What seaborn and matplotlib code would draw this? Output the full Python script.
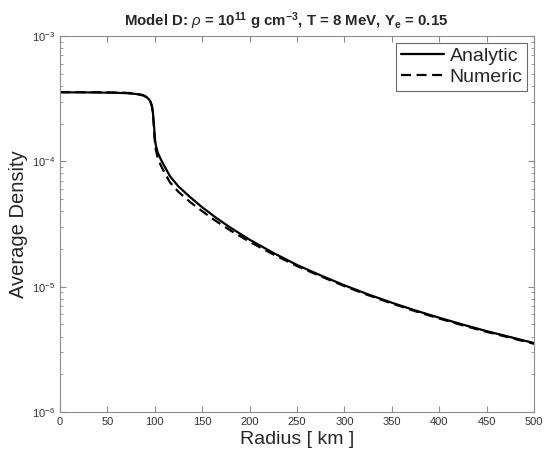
import numpy as np
import pandas as pd
import matplotlib
matplotlib.use("Agg")
import matplotlib.pyplot as plt
import seaborn as sns

# radius grid [km]
radius = [0, 20, 40, 60, 70, 80, 88, 92, 95, 97, 98, 99, 100, 101, 103, 106,
          110, 116, 125, 137, 150, 165, 180, 200, 225, 250, 275, 300, 325,
          350, 375, 400, 425, 450, 475, 500]

# average density
analytic = [3.55e-4, 3.55e-4, 3.54e-4, 3.52e-4, 3.50e-4, 3.45e-4, 3.35e-4,
            3.22e-4, 3.05e-4, 2.75e-4, 2.45e-4, 2.0e-4, 1.55e-4, 1.35e-4,
            1.18e-4, 1.05e-4, 9.2e-5, 7.6e-5, 6.3e-5, 5.2e-5, 4.3e-5, 3.53e-5,
            2.95e-5, 2.37e-5, 1.86e-5, 1.49e-5, 1.23e-5, 1.025e-5, 8.68e-6,
            7.45e-6, 6.45e-6, 5.65e-6, 4.98e-6, 4.42e-6, 3.96e-6, 3.55e-6]

numeric = [3.57e-4, 3.57e-4, 3.56e-4, 3.54e-4, 3.52e-4, 3.47e-4, 3.37e-4,
           3.24e-4, 3.06e-4, 2.75e-4, 2.4e-4, 1.9e-4, 1.45e-4, 1.25e-4,
           1.07e-4, 9.4e-5, 8.2e-5, 6.8e-5, 5.7e-5, 4.75e-5, 4.0e-5, 3.32e-5,
           2.8e-5, 2.28e-5, 1.81e-5, 1.46e-5, 1.21e-5, 1.01e-5, 8.56e-6,
           7.35e-6, 6.36e-6, 5.57e-6, 4.91e-6, 4.36e-6, 3.91e-6, 3.5e-6]

sns.set_style("ticks")
plt.rcParams['font.family'] = ['Liberation Sans', 'DejaVu Sans']
plt.rcParams['mathtext.fontset'] = 'custom'
plt.rcParams['mathtext.rm'] = 'Liberation Sans'
plt.rcParams['mathtext.it'] = 'Liberation Sans:italic'
plt.rcParams['mathtext.bf'] = 'Liberation Sans:bold'

df = pd.DataFrame({'radius': radius, 'analytic': analytic, 'numeric': numeric})

fig = plt.figure(figsize=(5.45, 4.58), dpi=100, facecolor='white')
ax = fig.add_axes([60 / 545, 1 - 412 / 458, 474 / 545, 376 / 458])

sns.lineplot(data=df, x='radius', y='analytic', ax=ax, color='black',
             linewidth=1.6, label='Analytic')
sns.lineplot(data=df, x='radius', y='numeric', ax=ax, color='black',
             linewidth=1.6, linestyle=(0, (4.5, 2.5)), label='Numeric')

ax.set_yscale('log')
ax.set_xlim(0, 500)
ax.set_ylim(1e-6, 1e-3)
ax.set_xticks(range(0, 501, 50))
ax.set_yticks([1e-6, 1e-5, 1e-4, 1e-3])

spine_col = '#8c8c8c'
for s in ax.spines.values():
    s.set_visible(True)
    s.set_color(spine_col)
    s.set_linewidth(0.8)
ax.tick_params(which='both', direction='in', top=True, right=True,
               color=spine_col, labelcolor='#333333', labelsize=8)
ax.tick_params(which='major', length=4)
ax.tick_params(which='minor', length=2.2)

ax.set_xlabel('Radius [ km ]', fontsize=14, color='#262626', labelpad=3)
ax.set_ylabel('Average Density', fontsize=14.5, color='#262626', labelpad=3)
ax.set_title(r'Model D: $\rho$ = 10$^{\mathbf{11}}$ g cm$^{\mathbf{-3}}$, '
             r'T = 8 MeV, Y$_{\mathbf{e}}$ = 0.15',
             fontsize=10.8, fontweight='bold', pad=7, x=0.477)

leg = ax.legend(loc='upper right', fontsize=14, frameon=True, fancybox=False,
                handlelength=2.2, handletextpad=0.3, borderpad=0.25,
                labelspacing=0.15, borderaxespad=0.35)
leg.get_frame().set_edgecolor('#444444')
leg.get_frame().set_linewidth(0.8)

fig.savefig('out.png', dpi=100, facecolor='white')
